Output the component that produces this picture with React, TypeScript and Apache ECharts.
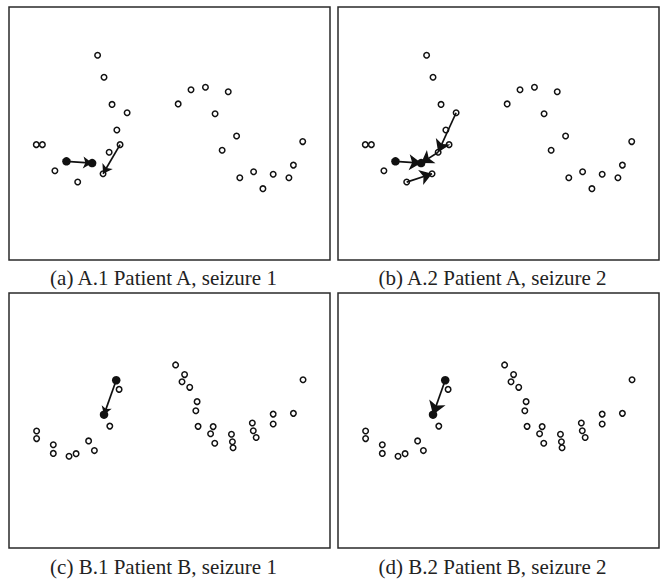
import React, { useEffect, useRef } from "react";
import * as echarts from "echarts";

// Panel A (patient A) open points: normalized coordinates (0-100)
const patientAX = [27.6, 29.6, 32.1, 36.8, 33.6, 34.6, 31.2, 29.3, 8.5, 10.4, 14.3, 21.4, 52.7, 56.7, 61.2, 68.3, 64.2, 70.9, 66.4, 91.5, 88.6, 71.9, 76.2, 82.3, 87.2, 79.1];
const patientAY = [80.9, 72.2, 61.5, 58.2, 51.4, 45.6, 42.6, 34.1, 45.6, 45.6, 35.3, 30.8, 61.7, 67.3, 68.3, 66.5, 57.8, 49.0, 43.4, 46.8, 37.5, 32.5, 34.9, 33.9, 32.5, 28.2];
const patientAFilled: [number, number][] = [[17.9, 39.0], [25.9, 38.3]];

// Panel B (patient B) open points
const patientBX = [34.3, 31.4, 8.6, 8.6, 13.8, 13.8, 18.7, 20.9, 24.8, 26.6, 51.9, 54.7, 53.9, 56.3, 58.6, 58.2, 58.9, 63.6, 62.8, 64.1, 69.3, 69.6, 69.8, 75.8, 76.1, 77.0, 82.3, 82.3, 88.6, 91.6];
const patientBY = [62.2, 47.8, 45.9, 42.9, 40.5, 37.1, 36.0, 37.0, 42.0, 38.2, 71.8, 68.0, 65.2, 63.0, 57.4, 53.8, 47.7, 47.6, 44.8, 41.1, 44.6, 41.7, 39.3, 49.0, 46.0, 43.3, 52.5, 48.6, 52.8, 66.0];
const patientBFilled: [number, number][] = [[33.4, 65.8], [29.6, 52.3]];

// Arrows (from -> to)
const arrowsA1: [number, number][][] = [
  [[17.9, 39.0], [25.9, 38.3]],
  [[34.6, 45.6], [29.3, 34.1]],
];
const arrowsA2: [number, number][][] = [
  [[17.9, 39.0], [25.9, 38.3]],
  [[36.8, 58.2], [31.2, 42.6]],
  [[31.2, 42.6], [25.9, 38.3]],
  [[21.4, 30.8], [29.3, 34.1]],
];
const arrowsB1: [number, number][][] = [[[33.4, 65.8], [29.6, 52.3]]];
const arrowsB2: [number, number][][] = [[[33.4, 65.8], [29.6, 52.3]]];

const captions = [
  "(a) A.1 Patient A, seizure 1",
  "(b) A.2 Patient A, seizure 2",
  "(c) B.1 Patient B, seizure 1",
  "(d) B.2 Patient B, seizure 2",
];

export default function App() {
  const ref = useRef<HTMLDivElement>(null);
  useEffect(() => {
    if (!ref.current) return;
    const chart = echarts.init(ref.current, undefined, { renderer: "svg" });
    const grids = [
      { left: 9, top: 7, width: 321, height: 253 },
      { left: 338, top: 7, width: 321, height: 253 },
      { left: 9, top: 293, width: 321, height: 255 },
      { left: 338, top: 293, width: 321, height: 255 },
    ];
    const openA = patientAX.map((x, i) => [x, patientAY[i]]);
    const openB = patientBX.map((x, i) => [x, patientBY[i]]);
    const panels = [
      { open: openA, filled: patientAFilled, arrows: arrowsA1, head: 9 },
      { open: openA, filled: patientAFilled, arrows: arrowsA2, head: 12 },
      { open: openB, filled: patientBFilled, arrows: arrowsB1, head: 8 },
      { open: openB, filled: patientBFilled, arrows: arrowsB2, head: 13 },
    ];
    const series: any[] = [];
    panels.forEach((p, i) => {
      series.push({
        type: "scatter",
        xAxisIndex: i,
        yAxisIndex: i,
        data: p.open,
        symbol: "circle",
        symbolSize: 5.5,
        itemStyle: { color: "#fff", borderColor: "#111", borderWidth: 1.5, opacity: 1 },
        z: 2,
      });
      series.push({
        type: "lines",
        coordinateSystem: "cartesian2d",
        xAxisIndex: i,
        yAxisIndex: i,
        data: p.arrows.map((c) => ({ coords: c })),
        symbol: ["none", "arrow"],
        symbolSize: p.head,
        lineStyle: { color: "#111", width: 1.7, opacity: 1 },
        z: 3,
      });
      series.push({
        type: "scatter",
        xAxisIndex: i,
        yAxisIndex: i,
        data: p.filled,
        symbol: "circle",
        symbolSize: 8.5,
        itemStyle: { color: "#111", opacity: 1 },
        z: 4,
      });
    });
    const axisCommon = { show: false, min: 0, max: 100 };
    chart.setOption({
      animation: false,
      grid: grids.map((g) => ({ ...g, show: true, borderColor: "#2a2a2a", borderWidth: 1.5, backgroundColor: "#fff" })),
      xAxis: grids.map((_, i) => ({ ...axisCommon, type: "value", gridIndex: i })),
      yAxis: grids.map((_, i) => ({ ...axisCommon, type: "value", gridIndex: i })),
      series,
      graphic: captions.map((t, i) => ({
        type: "text",
        x: grids[i].left + grids[i].width / 2 - 6,
        y: i < 2 ? 278 : 567,
        style: {
          text: t,
          fill: "#222",
          font: "21px 'Liberation Serif', serif",
          textAlign: "center",
          textVerticalAlign: "middle",
        },
      })),
    });
    return () => chart.dispose();
  }, []);
  return <div ref={ref} style={{ position: "absolute", left: 0, top: 0, width: 661, height: 579, background: "#fff" }} />;
}
